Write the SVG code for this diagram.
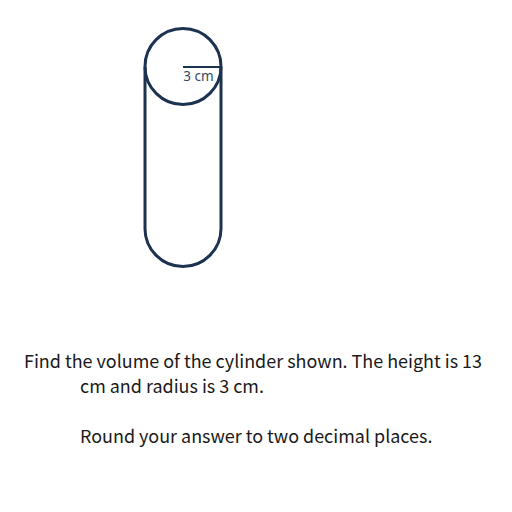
<svg xmlns="http://www.w3.org/2000/svg" width="512" height="512" viewBox="0 0 512 512">
<style>
.s{fill:none;stroke:#1d3250;stroke-width:3}
.t{font-family:"Noto Sans CJK SC","Noto Sans",sans-serif;font-size:17.96px;fill:#1a1a1a}
</style>
<rect width="512" height="512" fill="#fff"/>
<g id="cylinder">
<circle class="s" cx="183" cy="66.500" r="38"/>
<path class="s" d="M145 67V228.500A38 38 0 0 0 221 228.500V67"/>
<path d="M183 67H221" fill="none" stroke="#1d3250" stroke-width="2"/>
<text x="198.500" y="81" text-anchor="middle" font-family="Noto Sans,sans-serif" font-size="13.500" fill="#3a4a5e">3 cm</text>
</g>
<text class="t" x="24" y="368">Find the volume of the cylinder shown. The height is 13</text>
<text class="t" x="80" y="393">cm and radius is 3 cm.</text>
<text class="t" x="80" y="443">Round your answer to two decimal places.</text>
</svg>
